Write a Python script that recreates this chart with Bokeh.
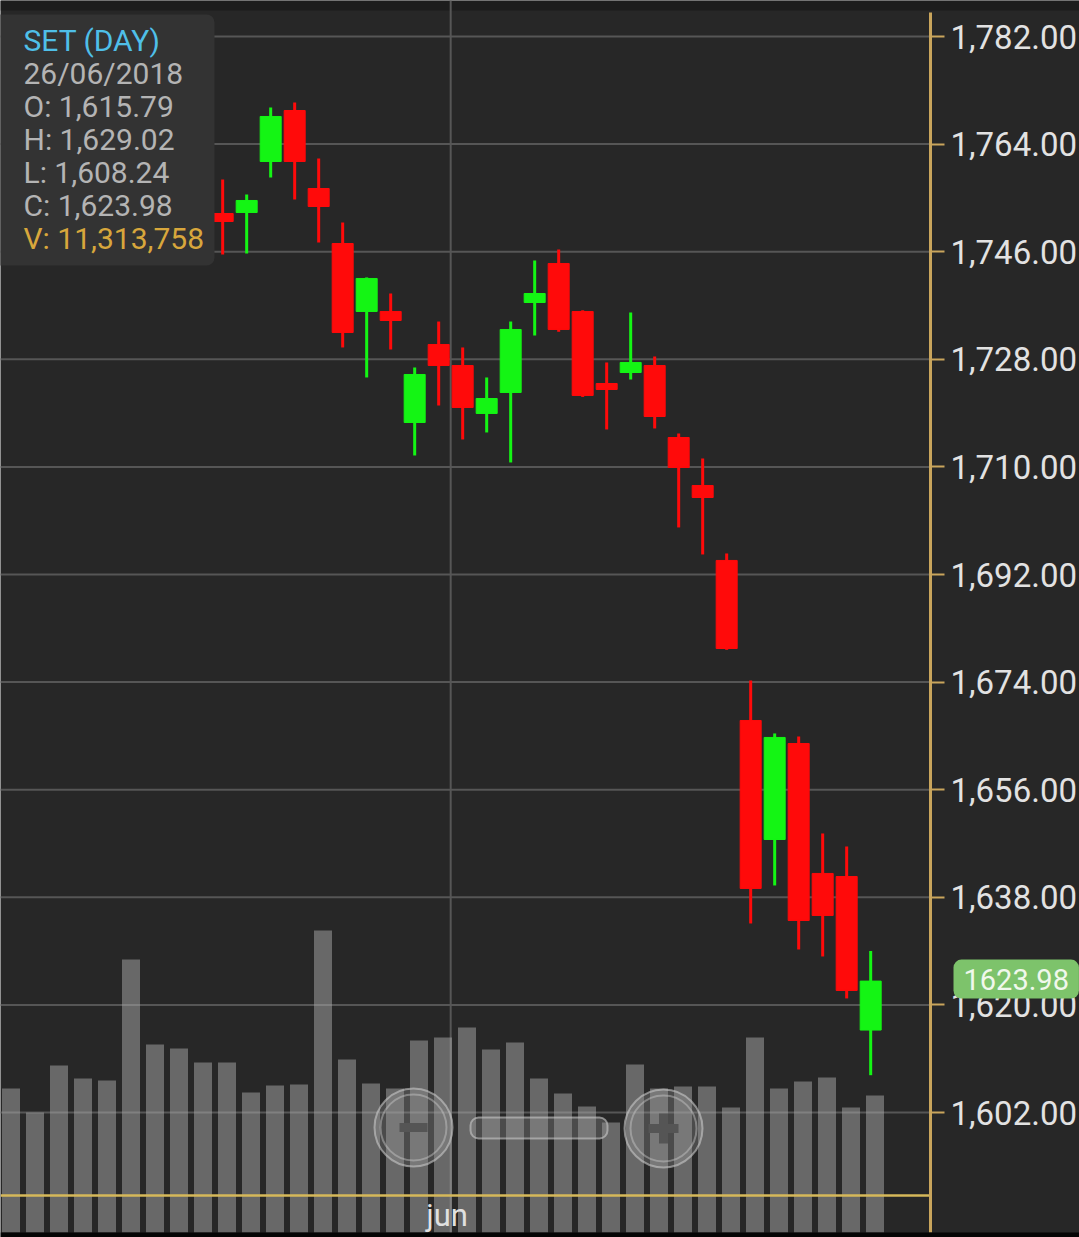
from bokeh.plotting import figure
from bokeh.models import (Range1d, FixedTicker, NumeralTickFormatter, ColumnDataSource,
                          Span, Label, BoxAnnotation, LinearAxis)
from bokeh.embed import file_html
from bokeh.resources import INLINE

# ---------------- data ----------------
symbol = "SET (DAY)"
last_date = "26/06/2018"

# volume for every bar on screen (index 0..36)
volume = [11_890_000, 9_910_000, 13_790_000, 12_710_000, 12_550_000, 22_540_000,
          15_520_000, 15_190_000, 14_030_000, 14_030_000, 11_560_000, 12_140_000,
          12_220_000, 24_930_000, 14_280_000, 12_300_000, 11_890_000, 15_850_000,
          16_100_000, 16_920_000, 15_110_000, 15_690_000, 12_710_000, 11_480_000,
          10_400_000, 9_080_000, 13_870_000, 11_890_000, 12_050_000, 12_050_000,
          10_320_000, 16_100_000, 11_890_000, 12_470_000, 12_800_000, 10_320_000,
          11_313_758]

# candles visible (index 9..36); earlier ones are hidden under the info box
candle_index = list(range(9, 37))
opens = [1752.39, 1752.56, 1761.09, 1769.62, 1756.57, 1747.37, 1736.00, 1736.00,
         1717.43, 1730.48, 1726.96, 1718.94, 1722.45, 1737.50, 1744.03, 1736.00,
         1723.95, 1725.79, 1726.96, 1714.92, 1706.89, 1694.35, 1667.58, 1647.67,
         1663.73, 1641.99, 1641.48, 1615.79]
highs = [1758.08, 1755.57, 1770.12, 1770.96, 1761.59, 1750.89, 1741.70, 1739.01,
         1726.63, 1734.32, 1729.98, 1724.96, 1734.32, 1744.53, 1746.37, 1736.20,
         1727.47, 1735.83, 1728.47, 1715.59, 1711.41, 1695.52, 1674.27, 1665.41,
         1664.90, 1648.68, 1646.50, 1629.02]
lows = [1745.53, 1745.70, 1758.41, 1754.73, 1747.54, 1729.98, 1724.96, 1729.64,
        1711.91, 1720.27, 1714.59, 1715.76, 1710.74, 1731.98, 1732.60, 1721.70,
        1716.26, 1724.62, 1716.43, 1699.87, 1695.35, 1679.40, 1633.62, 1639.98,
        1629.27, 1628.10, 1621.08, 1608.24]
closes = [1751.05, 1754.57, 1768.62, 1761.09, 1753.56, 1732.48, 1741.52, 1734.49,
          1725.46, 1726.96, 1719.94, 1721.44, 1732.99, 1739.01, 1732.99, 1721.95,
          1722.95, 1727.47, 1718.43, 1709.90, 1704.88, 1679.62, 1639.48, 1664.74,
          1634.12, 1634.96, 1622.41, 1623.98]

price_ticks = [1602, 1620, 1638, 1656, 1674, 1692, 1710, 1728, 1746, 1764, 1782]
month_labels = ["jun"]
month_start_index = [19]   # first trading day of June

# ---------------- layout helpers (page pixel -> data) ----------------
W, H = 1079, 1237
BAR_X0, BAR_PX = 10.5, 24.0
Y_REF, Y_REF_PX, PT_PX = 1782.0, 36.0, 107.6 / 18.0
VOL_PX = volume[-1] / 137.0
VOL_BASE_PX = 1232.0
AXIS_PX = 930

def px2x(X):
    return (X - BAR_X0) / BAR_PX

def py2y(Y):
    return Y_REF - (Y - Y_REF_PX) / PT_PX

BG = "#272727"
RED = "#ff0a0a"
GREEN = "#14f514"
GOLD = "#c9a55c"
GRID = "#565656"
FONT = "Roboto"
CANDLE_SHIFT = -0.18

p = figure(width=W, height=H,
           x_range=Range1d(px2x(0), px2x(W)),
           y_range=Range1d(py2y(H), py2y(0)),
           y_axis_location=None, x_axis_location=None,
           output_backend="svg", toolbar_location=None,
           background_fill_color=BG, border_fill_color=BG,
           min_border=0, outline_line_color=None)
p.xgrid.visible = False
p.ygrid.visible = False

p.extra_y_ranges = {"vol": Range1d((VOL_BASE_PX - H) * VOL_PX, VOL_BASE_PX * VOL_PX)}

# top status strip
p.add_layout(BoxAnnotation(top=py2y(0), bottom=py2y(10), fill_color="#1d1d1d",
                           fill_alpha=1.0, line_color=None, level="underlay"))

# price axis, drawn at a fixed place on the right
ax = LinearAxis(fixed_location=px2x(AXIS_PX), ticker=FixedTicker(ticks=price_ticks),
                formatter=NumeralTickFormatter(format="0,0.00"),
                bounds=(py2y(1232), py2y(12)))
ax.axis_line_color = GOLD
ax.axis_line_width = 3
ax.major_tick_line_color = GOLD
ax.major_tick_line_width = 2
ax.major_tick_out = 14
ax.major_tick_in = 0
ax.minor_tick_line_color = None
ax.major_label_text_font = FONT
ax.major_label_text_font_size = "33px"
ax.major_label_text_color = "#e2e2e2"
ax.major_label_standoff = 6
p.add_layout(ax, "right")

# horizontal grid lines (stop at the axis)
p.segment(x0=px2x(0), x1=px2x(AXIS_PX), y0=price_ticks, y1=price_ticks,
          line_color=GRID, line_width=2)

# month separator
for mi in month_start_index:
    p.add_layout(Span(location=mi - 0.5 + CANDLE_SHIFT, dimension="height",
                      line_color=GRID, line_width=2, level="underlay"))

# volume bars
vsrc = ColumnDataSource(dict(x=list(range(len(volume))), v=volume))
p.vbar(x="x", top="v", bottom=0, width=0.75, source=vsrc, y_range_name="vol",
       fill_color="#aaaaaa", fill_alpha=0.5, line_color=None)

# candles
colors = [GREEN if c >= o else RED for o, c in zip(opens, closes)]
csrc = ColumnDataSource(dict(
    x=[i + CANDLE_SHIFT for i in candle_index],
    high=highs, low=lows,
    top=[max(o, c) for o, c in zip(opens, closes)],
    bottom=[min(o, c) for o, c in zip(opens, closes)],
    color=colors))
p.segment(x0="x", y0="low", x1="x", y1="high", source=csrc, line_color="color", line_width=3)
p.vbar(x="x", top="top", bottom="bottom", width=0.875, source=csrc,
       fill_color="color", line_color="color", line_width=1)

# gold base line
p.segment(x0=[px2x(0)], x1=[px2x(AXIS_PX)], y0=[py2y(1195)], y1=[py2y(1195)],
          line_color="#d6b85a", line_width=2.5)

# zoom controls (decorative overlay)
for X, Y in [(413, 1127), (663, 1128)]:
    p.scatter(x=[px2x(X)], y=[py2y(Y)], size=78, marker="circle",
              fill_color="#a0a0a0", fill_alpha=0.3, line_color="#c8c8c8", line_alpha=0.6, line_width=2)
    p.scatter(x=[px2x(X)], y=[py2y(Y)], size=66, marker="circle",
              fill_color=None, line_color="#c8c8c8", line_alpha=0.45, line_width=2)
p.scatter(x=[px2x(413)], y=[py2y(1127)], size=28, marker="dash",
          line_color="#555555", line_width=9)
p.scatter(x=[px2x(663)], y=[py2y(1128)], size=30, marker="cross",
          line_color="#555555", line_width=9)
p.add_layout(BoxAnnotation(left=px2x(470), right=px2x(607), top=py2y(1117), bottom=py2y(1138),
                           fill_color="#a0a0a0", fill_alpha=0.3, line_color="#c8c8c8",
                           line_alpha=0.6, line_width=2, border_radius=8))

# bottom black strip
p.add_layout(BoxAnnotation(top=py2y(1232), bottom=py2y(H), fill_color="#050505",
                           fill_alpha=1.0, line_color=None))

# month label
for lab, mi in zip(month_labels, month_start_index):
    p.add_layout(Label(x=mi - 0.5 + CANDLE_SHIFT - 0.15, y=py2y(1215), text=lab,
                       text_font=FONT, text_font_size="31px", text_color="#e0e0e0",
                       text_align="center", text_baseline="alphabetic"))

# info box
p.add_layout(BoxAnnotation(left=px2x(-10), right=px2x(214), top=py2y(14), bottom=py2y(265),
                           fill_color="#333333", fill_alpha=1.0, line_color=None,
                           border_radius=8))
o, h, l, c, v = opens[-1], highs[-1], lows[-1], closes[-1], volume[-1]
info_lines = [
    (symbol, "#4fbfe8"),
    (last_date, "#b4b4b4"),
    (f"O: {o:,.2f}", "#b4b4b4"),
    (f"H: {h:,.2f}", "#b4b4b4"),
    (f"L: {l:,.2f}", "#b4b4b4"),
    (f"C: {c:,.2f}", "#b4b4b4"),
    (f"V: {v:,}", "#d8a73c"),
]
for k, (txt, col) in enumerate(info_lines):
    p.add_layout(Label(x=px2x(23), y=py2y(40 + 33 * k), text=txt, text_font=FONT,
                       text_font_size="30px", text_color=col, text_baseline="alphabetic"))

# last price tag
p.add_layout(Label(x=px2x(953), y=c, y_offset=2, text=f"{c:.2f}", text_font=FONT,
                   text_font_size="29px", text_color="#f0f8ec", text_baseline="middle",
                   background_fill_color="#7dc36b", background_fill_alpha=1.0,
                   border_radius=8, padding=(10, 9)))

open("out.html", "w").write(file_html(p, INLINE, title="SET (DAY)"))
